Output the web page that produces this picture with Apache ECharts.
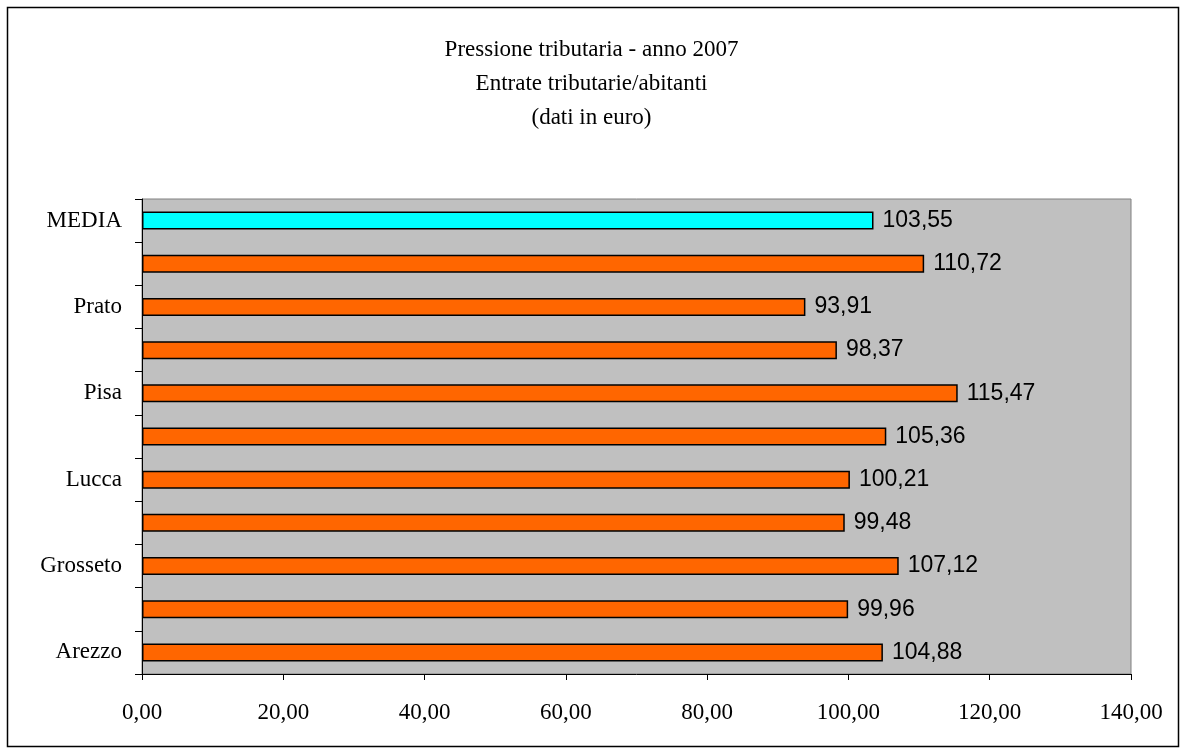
<!DOCTYPE html>
<html>
<head>
<meta charset="utf-8">
<script src="https://cdn.jsdelivr.net/npm/echarts@6/dist/echarts.min.js"></script>
<style>
  html, body { margin: 0; padding: 0; background: #fff; }
  #chart { width: 1183px; height: 749px; }
</style>
</head>
<body>
<div id="chart"></div>
<script>
// categories from bottom to top (every other label is hidden in the original)
const provinces = ['Arezzo', 'Firenze', 'Grosseto', 'Livorno', 'Lucca', 'Massa Carrara',
  'Pisa', 'Pistoia', 'Prato', 'Siena', 'MEDIA']
const values = [104.88, 99.96, 107.12, 99.48, 100.21, 105.36, 115.47, 98.37, 93.91, 110.72, 103.55]
const titleLines = ['Pressione tributaria - anno 2007', 'Entrate tributarie/abitanti', '(dati in euro)']

const fmt = v => v.toFixed(2).replace('.', ',')

const chart = echarts.init(document.getElementById('chart'))
chart.setOption({
  animation: false,
  title: {
    text: titleLines.join('\n'),
    left: 'center',
    top: 28,
    textStyle: {
      fontFamily: 'Liberation Serif',
      fontWeight: 'normal',
      fontSize: 23,
      lineHeight: 34,
      color: '#000'
    }
  },
  graphic: [{
    type: 'rect',
    shape: { x: 7.5, y: 7.5, width: 1171, height: 739 },
    style: { fill: 'none', stroke: '#000', lineWidth: 1.5 },
    silent: true
  }],
  grid: {
    left: 142,
    top: 199,
    width: 989,
    height: 475,
    show: true,
    backgroundColor: '#C0C0C0',
    borderColor: '#808080',
    borderWidth: 1
  },
  xAxis: {
    type: 'value',
    min: 0,
    max: 140,
    interval: 20,
    splitLine: { show: false },
    axisLine: { show: true, lineStyle: { color: '#000', width: 1 } },
    axisTick: { show: true, length: 6, inside: false, lineStyle: { color: '#000' } },
    axisLabel: {
      margin: 27,
      fontFamily: 'Liberation Serif',
      fontSize: 23,
      color: '#000',
      formatter: v => fmt(v)
    }
  },
  yAxis: {
    type: 'category',
    data: provinces,
    axisLine: { show: true, lineStyle: { color: '#000', width: 1 } },
    axisTick: { show: true, length: 7, interval: 0, lineStyle: { color: '#000' } },
    axisLabel: {
      interval: 1,
      margin: 20,
      fontFamily: 'Liberation Serif',
      fontSize: 23,
      color: '#000'
    }
  },
  series: [{
    type: 'bar',
    barWidth: 18,
    data: values.map((v, i) => ({
      value: v,
      itemStyle: { color: provinces[i] === 'MEDIA' ? '#00FFFF' : '#FF6600' }
    })),
    itemStyle: { borderColor: '#000', borderWidth: 1.5 },
    label: {
      show: true,
      position: 'right',
      distance: 9,
      fontFamily: 'Liberation Sans',
      fontSize: 23,
      color: '#000',
      formatter: p => fmt(p.value)
    }
  }]
})
</script>
</body>
</html>
